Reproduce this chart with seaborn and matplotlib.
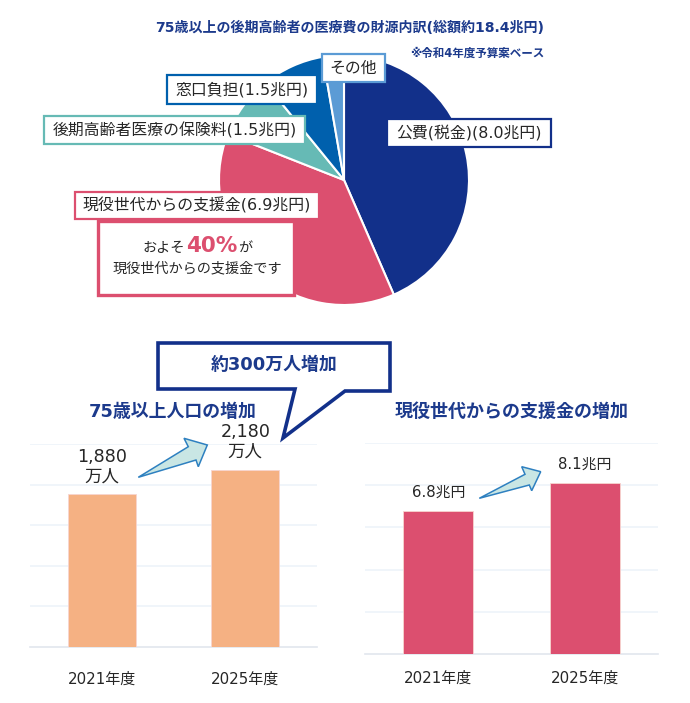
import matplotlib
matplotlib.use("Agg")
import matplotlib.pyplot as plt
from matplotlib.patches import Polygon, Rectangle
import seaborn as sns
import pandas as pd

W, H = 690, 703

# ---- data ----
pie_labels = ["公費(税金)", "現役世代からの支援金", "後期高齢者医療の保険料", "窓口負担", "その他"]
pie_values = [8.0, 6.9, 1.5, 1.5, 0.5]
pie_colors = ["#12308a", "#dc4f6f", "#66bab5", "#0060ad", "#5b9bd5"]

years = ["2021年度", "2025年度"]
population = [1880, 2180]
population_labels = ["1,880\n万人", "2,180\n万人"]
support = [6.8, 8.1]
support_labels = ["6.8兆円", "8.1兆円"]

NAVY = "#1c3a8c"
TXT = "#262626"
PINK = "#dc4f6f"

sns.set_theme(style="white")
FONT = ["DejaVu Sans", "Noto Sans CJK JP"]
plt.rcParams["font.family"] = FONT

fig = plt.figure(figsize=(W / 100, H / 100), dpi=100, facecolor="white")


def px_axes(x0, y0, x1, y1, **kw):
    return fig.add_axes([x0 / W, 1 - y1 / H, (x1 - x0) / W, (y1 - y0) / H], **kw)


# ---- pie ----
ax_pie = px_axes(219, 55, 469, 305)
ax_pie.pie(pie_values, colors=pie_colors, startangle=90, counterclock=False,
           wedgeprops=dict(edgecolor="white", linewidth=1.5), radius=1.0)
ax_pie.set_xlim(-1.0, 1.0)
ax_pie.set_ylim(-1.0, 1.0)


# ---- bars ----
def bar_panel(box, cats, vals, color, ymax, step, width, pad):
    ax = px_axes(*box)
    df = pd.DataFrame({"year": cats, "value": vals})
    sns.barplot(data=df, x="year", y="value", color=color, width=width, saturation=1,
                edgecolor="#f7d5d0", linewidth=0.6, ax=ax, zorder=3)
    ax.set_xlim(-0.5, 1.5)
    ax.set_ylim(0, ymax)
    ax.set_yticks([step * i for i in range(1, 6)])
    ax.yaxis.grid(True, color="#eef3fa", linewidth=1.2, zorder=0)
    ax.set_axisbelow(True)
    ax.tick_params(axis="y", left=False, labelleft=False)
    ax.tick_params(axis="x", bottom=False, pad=pad, labelsize=10.8, labelcolor=TXT)
    ax.set_xlabel("")
    ax.set_ylabel("")
    for s in ["top", "left", "right"]:
        ax.spines[s].set_visible(False)
    ax.spines["bottom"].set_color("#e2e6ee")
    ax.spines["bottom"].set_linewidth(1.2)
    ax.patch.set_alpha(0)
    return ax


ax1 = bar_panel((30, 444, 317, 647), years, population, "#f5b183", 2500, 500, 0.475, 12)
ax2 = bar_panel((365, 443, 658, 654), years, support, PINK, 10, 2, 0.478, 6)

for i, (v, t) in enumerate(zip(population, population_labels)):
    ax1.annotate(t, (i, v), xytext=(0, 6.5), textcoords="offset points",
                 ha="center", va="bottom", fontsize=12.6, color=TXT, linespacing=1.12, zorder=6)
for i, (v, t) in enumerate(zip(support, support_labels)):
    ax2.annotate(t, (i, v), xytext=(0, 8), textcoords="offset points",
                 ha="center", va="bottom", fontsize=10.7, color=TXT, zorder=6)

# ---- overlay in pixel coordinates ----
ov = fig.add_axes([0, 0, 1, 1], zorder=10)
ov.set_xlim(0, W)
ov.set_ylim(H, 0)
ov.axis("off")
ov.patch.set_alpha(0)

ov.text(350, 28, "75歳以上の後期高齢者の医療費の財源内訳(総額約18.4兆円)", ha="center", va="center",
        fontsize=10.1, fontweight="bold", color=NAVY)
ov.text(477, 53, "※令和4年度予算案ベース", ha="center", va="center",
        fontsize=8.3, fontweight="bold", color=NAVY)


def box(x0, y0, x1, y1, ec, text=None, lw=1.6, fs=11.4):
    ov.add_patch(Rectangle((x0, y0), x1 - x0, y1 - y0, facecolor="white", edgecolor=ec, linewidth=lw))
    if text:
        ov.text((x0 + x1) / 2, (y0 + y1) / 2, text, ha="center", va="center", fontsize=fs, color=TXT)


box(387, 119, 551, 147, "#12308a", f"{pie_labels[0]}({pie_values[0]:.1f}兆円)")
box(322, 54, 385, 82, "#5b9bd5", pie_labels[4])
box(166.5, 75, 317, 104, "#0060ad", f"{pie_labels[3]}({pie_values[3]:.1f}兆円)")
box(44, 116, 305, 144, "#66bab5", f"{pie_labels[2]}({pie_values[2]:.1f}兆円)")
box(75, 192, 319, 219, PINK, f"{pie_labels[1]}({pie_values[1]:.1f}兆円)")
box(98, 221, 294, 295, PINK, lw=2.4)
ov.text(143, 248, "およそ", ha="left", va="center", fontsize=10.2, color=TXT)
ov.text(186, 246, "40%", ha="left", va="center", fontsize=15.5, fontweight="bold", color=PINK)
ov.text(238, 248, "が", ha="left", va="center", fontsize=10.2, color=TXT)
ov.text(197, 268, "現役世代からの支援金です", ha="center", va="center", fontsize=10.2, color=TXT)

ov.text(173, 412, "75歳以上人口の増加", ha="center", va="center", fontsize=12.9,
        fontweight="bold", color=NAVY)
ov.text(511.5, 412, "現役世代からの支援金の増加", ha="center", va="center", fontsize=13,
        fontweight="bold", color=NAVY)

# callout
ov.add_patch(Polygon([(158, 343), (390, 343), (390, 391), (345, 391), (283, 438), (295, 389), (158, 389)],
                     closed=True, facecolor="white", edgecolor="#12308a", linewidth=2.6, joinstyle="miter"))
ov.text(274, 365, "約300万人増加", ha="center", va="center", fontsize=12.9,
        fontweight="bold", color=NAVY)

# arrows
for pts in ([(138.3, 477.3), (196, 460), (198.3, 466.7), (207.3, 445), (184, 438.3), (188.3, 446.7)],
            [(479.3, 498.3), (529.3, 485), (531.7, 490.7), (540.7, 471.7), (521.7, 466.7), (525, 474.3)]):
    ov.add_patch(Polygon(pts, closed=True, facecolor="#c9e6e4", edgecolor="#2e80c0", linewidth=1.1))

fig.savefig("out.png", dpi=100)
